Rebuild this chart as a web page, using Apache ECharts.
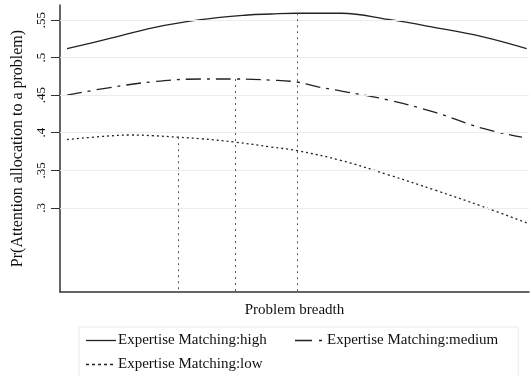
<!DOCTYPE html>
<html>
<head>
<meta charset="utf-8">
<script src="https://cdn.jsdelivr.net/npm/echarts@6/dist/echarts.min.js"></script>
<style>html,body{margin:0;padding:0;background:#fff}#c{width:531px;height:376px}</style>
</head>
<body>
<div id="c"></div>
<script>
// Data
const seriesNames = ['Expertise Matching:high', 'Expertise Matching:medium', 'Expertise Matching:low'];
const xHigh = [1.5, 10, 20, 30, 40, 45, 50.5, 60, 70, 80, 90, 99.5];
const high  = [0.512, 0.5245, 0.540, 0.5505, 0.5567, 0.558, 0.559, 0.559, 0.5508, 0.540, 0.528, 0.512];
const xMed  = [1.5, 10, 20, 30, 37.3, 45, 50.5, 55, 60, 70, 80, 90, 98.5];
const med   = [0.450, 0.4595, 0.468, 0.4715, 0.4715, 0.470, 0.4675, 0.461, 0.4555, 0.4435, 0.427, 0.406, 0.394];
const xLow  = [1.5, 10, 15, 20, 25.2, 30, 37.3, 45, 50.5, 60, 70, 80, 90, 99.5];
const low   = [0.391, 0.3955, 0.397, 0.396, 0.394, 0.392, 0.3875, 0.381, 0.3762, 0.363, 0.344, 0.3235, 0.302, 0.280];
const dropX   = [50.5, 37.3, 25.2];
const dropTop = [0.559, 0.4715, 0.394];
const yTicks  = [0.3, 0.35, 0.4, 0.45, 0.5, 0.55];
const yLabels = ['.3', '.35', '.4', '.45', '.5', '.55'];

const Y_MIN = 0.188, Y_MAX = 0.57;
const FONT = 'Liberation Serif';
const lineColor = '#222';
const pairs = (xs, ys) => xs.map((x, i) => [x, ys[i]]);

// legend icons drawn as paths (box 30x14, strokes 1.3px thick)
const BOX = 'M0,0M30,14';
const seg = (a, b) => `M${a},6.35H${b}V7.65H${a}Z`;
const legendIcons = [
  'path://' + BOX + seg(0, 30),
  'path://' + BOX + seg(0, 17) + seg(24, 27),
  'path://' + BOX + seg(0, 3) + seg(6, 9) + seg(12, 15) + seg(18, 21) + seg(24, 27)
];

function dropLine(i) {
  return {
    silent: true, symbol: 'none', label: {show: false},
    lineStyle: {color: '#555', width: 1, type: [2, 4]},
    data: [[{coord: [dropX[i], dropTop[i]]}, {coord: [dropX[i], Y_MIN]}]]
  };
}

const chart = echarts.init(document.getElementById('c'));
chart.setOption({
  animation: false,
  backgroundColor: '#fff',
  textStyle: {fontFamily: FONT, color: '#111'},
  grid: {left: 60, right: 2, top: 5, bottom: 84},
  xAxis: {
    type: 'value', min: 0, max: 100,
    name: 'Problem breadth', nameLocation: 'middle', nameGap: 11,
    nameTextStyle: {fontFamily: FONT, fontSize: 15, color: '#111'},
    axisLine: {show: true, lineStyle: {color: '#333', width: 1.5}},
    axisTick: {show: false}, axisLabel: {show: false}, splitLine: {show: false}
  },
  yAxis: {
    type: 'value', min: Y_MIN, max: Y_MAX,
    name: 'Pr(Attention allocation to a problem)', nameLocation: 'middle', nameGap: 34,
    nameTextStyle: {fontFamily: FONT, fontSize: 16, color: '#111'},
    axisLine: {show: true, lineStyle: {color: '#333', width: 1.5}},
    axisTick: {show: true, length: 9, customValues: yTicks, lineStyle: {color: '#333', width: 1}},
    axisLabel: {
      customValues: yTicks, rotate: 90, margin: 12,
      fontFamily: FONT, fontSize: 13, color: '#111',
      formatter: v => { const i = yTicks.findIndex(t => Math.abs(t - v) < 1e-6); return i >= 0 ? yLabels[i] : ''; }
    },
    splitLine: {show: false}
  },
  legend: {
    data: seriesNames.map((n, i) => ({name: n, icon: legendIcons[i]})),
    left: 79, top: 327,
    width: 420,
    orient: 'horizontal',
    padding: [6, 20, 5, 7],
    borderColor: '#e4ecf0', borderWidth: 1,
    itemWidth: 30, itemHeight: 14, itemGap: 9,
    itemStyle: {borderWidth: 0},
    textStyle: {fontFamily: FONT, fontSize: 15, color: '#111', width: 168, lineHeight: 15, padding: [0, 0, 0, -3]}
  },
  series: [
    {
      name: 'grid', type: 'line', data: [], silent: true,
      markLine: {
        silent: true, symbol: 'none', label: {show: false},
        lineStyle: {color: '#e6eef2', width: 1, type: 'solid'},
        data: yTicks.map(t => ({yAxis: t}))
      }
    },
    {
      name: seriesNames[0], type: 'line', data: pairs(xHigh, high), smooth: 0.4,
      symbol: 'none', lineStyle: {color: lineColor, width: 1.3, type: 'solid'}, itemStyle: {color: lineColor},
      markLine: dropLine(0)
    },
    {
      name: seriesNames[1], type: 'line', data: pairs(xMed, med), smooth: 0.4,
      symbol: 'none', lineStyle: {color: lineColor, width: 1.3, type: [15, 6, 3, 6]}, itemStyle: {color: lineColor},
      markLine: dropLine(1)
    },
    {
      name: seriesNames[2], type: 'line', data: pairs(xLow, low), smooth: 0.4,
      symbol: 'none', lineStyle: {color: lineColor, width: 1.3, type: [2, 3]}, itemStyle: {color: lineColor},
      markLine: dropLine(2)
    }
  ]
});
</script>
</body>
</html>
